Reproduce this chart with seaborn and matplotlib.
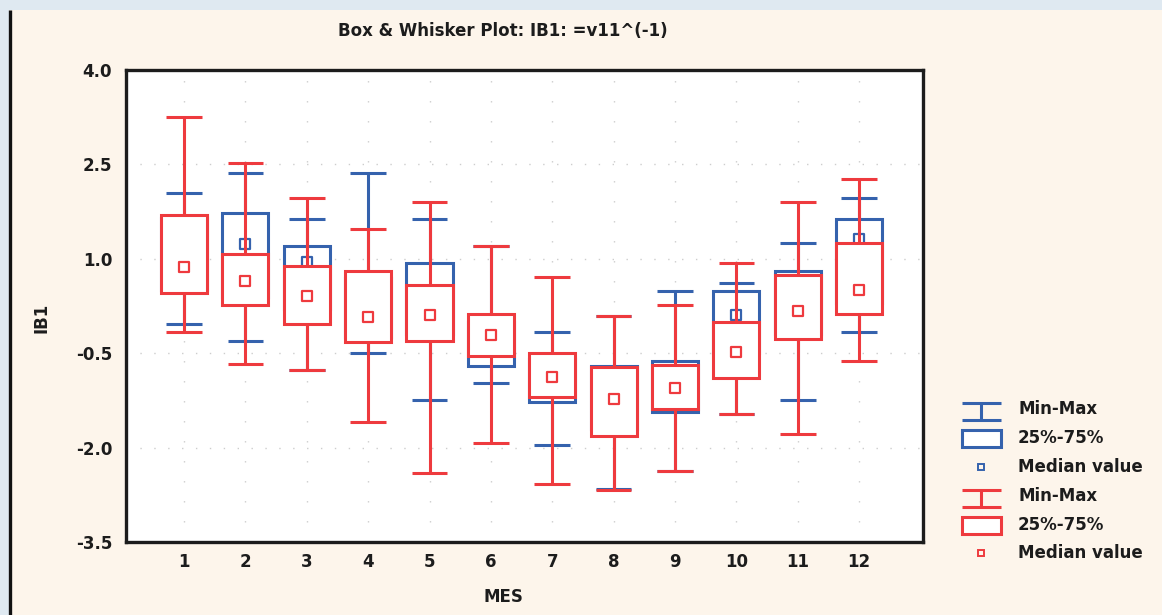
import numpy as np
import pandas as pd
import matplotlib
matplotlib.use("Agg")
import matplotlib.pyplot as plt
from matplotlib.patches import Rectangle
import seaborn as sns

# ---- data: five-number summaries of IB1 per month, two groups ----
MONTHS = [str(m) for m in range(1, 13)]

BLUE_MIN = [-0.04, -0.31, -0.76, -0.49, -1.24, -0.98, -1.96, -2.65, -2.37, -1.47, -1.24, -0.17]
BLUE_Q1 = [0.50, 0.40, 0.20, -0.25, -0.20, -0.71, -1.27, -1.70, -1.43, -0.50, -0.20, 0.30]
BLUE_MED = [0.90, 1.23, 0.95, 0.10, 0.20, -0.25, -0.90, -1.20, -1.06, 0.11, 0.17, 1.31]
BLUE_Q3 = [1.65, 1.72, 1.20, 0.70, 0.94, 0.00, -0.60, -0.71, -0.62, 0.49, 0.80, 1.63]
BLUE_MAX = [2.04, 2.36, 1.64, 2.36, 1.64, 1.20, -0.17, 0.09, 0.49, 0.62, 1.25, 1.96]

RED_MIN = [-0.17, -0.67, -0.76, -1.60, -2.40, -1.92, -2.58, -2.68, -2.37, -1.47, -1.78, -0.62]
RED_Q1 = [0.45, 0.27, -0.04, -0.32, -0.31, -0.54, -1.20, -1.81, -1.38, -0.89, -0.27, 0.13]
RED_MED = [0.87, 0.64, 0.41, 0.07, 0.11, -0.21, -0.88, -1.23, -1.06, -0.48, 0.17, 0.50]
RED_Q3 = [1.70, 1.07, 0.885, 0.81, 0.58, 0.13, -0.49, -0.72, -0.69, -0.01, 0.75, 1.25]
RED_MAX = [3.25, 2.53, 1.96, 1.47, 1.91, 1.20, 0.71, 0.09, 0.27, 0.94, 1.91, 2.27]

Y_TICKS = [-3.5, -2.0, -0.5, 1.0, 2.5, 4.0]
LEGEND_LABELS = ["Min-Max", "25%-75%", "Median value"]

BLUE = "#3562ad"
RED = "#ee3a3e"
PAGE = "#fdf5eb"
STRIP = "#dfe9f1"
INK = "#1c1c1c"
GRID = "#cdcdcd"

W, H = 1162, 615
FS = 12

plt.rcParams["axes.unicode_minus"] = False
plt.rcParams["font.family"] = ["DejaVu Sans"]


def long_form(mins, q1, med, q3, maxs):
    """Five values per month reproduce min/Q1/median/Q3/max exactly."""
    rows = []
    for m, vals in zip(MONTHS, zip(mins, q1, med, q3, maxs)):
        for v in vals:
            rows.append({"MES": m, "IB1": v})
    return pd.DataFrame(rows)


blue_df = long_form(BLUE_MIN, BLUE_Q1, BLUE_MED, BLUE_Q3, BLUE_MAX)
red_df = long_form(RED_MIN, RED_Q1, RED_MED, RED_Q3, RED_MAX)

fig = plt.figure(figsize=(W / 100, H / 100), dpi=100, facecolor=PAGE)
ax = fig.add_axes([126 / W, 73 / H, 797 / W, 472 / H])
ax.set_facecolor("white")

LW = 2.2


def draw_group(df, medians, color, base_z):
    n_lines, n_patches, n_coll = len(ax.lines), len(ax.patches), len(ax.collections)
    sns.boxplot(data=df, x="MES", y="IB1", order=MONTHS, whis=(0, 100),
                width=0.75, color="white", saturation=1, linecolor=color,
                linewidth=LW, fill=True, showfliers=False, capwidths=0.58,
                medianprops={"visible": False}, ax=ax)
    for ln in ax.lines[n_lines:]:
        ln.set_zorder(base_z)
        ln.set_solid_capstyle("butt")
    for p in ax.patches[n_patches:]:
        p.set_zorder(base_z + 0.1)
    sns.stripplot(x=MONTHS, y=medians, order=MONTHS, jitter=False, marker="s",
                  size=6.5, color="white", edgecolor=color, linewidth=1.6, ax=ax)
    for c in ax.collections[n_coll:]:
        c.set_zorder(base_z + 0.2)


draw_group(blue_df, BLUE_MED, BLUE, 3)
draw_group(red_df, RED_MED, RED, 4)

ax.set_xlim(-0.945, 12.04)
ax.set_ylim(-3.5, 4.0)
ax.set_yticks(Y_TICKS)
ax.set_yticklabels([f"{v:.1f}" for v in Y_TICKS])
ax.set_xticks(range(len(MONTHS)))
ax.set_xticklabels(MONTHS)
ax.set_xlabel("")
ax.set_ylabel("")
ax.tick_params(axis="both", length=0, labelsize=FS, labelcolor=INK)
ax.tick_params(axis="y", pad=10)
ax.tick_params(axis="x", pad=8)
for lab in ax.get_xticklabels() + ax.get_yticklabels():
    lab.set_fontweight("bold")

ax.set_axisbelow(True)
ax.xaxis.grid(True, linestyle=(0, (1, 13.4)), color=GRID, linewidth=1.0)
ax.yaxis.grid(True, linestyle=(0, (1, 9)), color=GRID, linewidth=1.0)
for sp in ax.spines.values():
    sp.set_linewidth(2.4)
    sp.set_color(INK)

# titles
fig.text(503 / W, 1 - 31 / H, "Box & Whisker Plot: IB1: =v11^(-1)", ha="center",
         va="center", fontsize=FS, fontweight="bold", color=INK)
fig.text(503 / W, 1 - 597 / H, "MES", ha="center", va="center",
         fontsize=FS, fontweight="bold", color=INK)
fig.text(42 / W, 1 - 318 / H, "IB1", ha="center", va="center", rotation=90,
         fontsize=FS, fontweight="bold", color=INK)

# overlay in pixel units: window strips and the legend
ov = fig.add_axes([0, 0, 1, 1], facecolor="none")
ov.set_xlim(0, W)
ov.set_ylim(H, 0)
ov.axis("off")
ov.add_patch(Rectangle((0, 0), W, 9.5, facecolor=STRIP, edgecolor="none"))
ov.add_patch(Rectangle((0, 0), 8.5, H, facecolor=STRIP, edgecolor="none"))
ov.plot([9.8, 9.8], [9.5, H], color="#111111", linewidth=2.4, solid_capstyle="butt")

ICON_X0, ICON_X1 = 961.5, 1000.5
ICON_XC = (ICON_X0 + ICON_X1) / 2
TEXT_X = 1018
for color, rows in [(BLUE, (409, 438, 467)), (RED, (496, 525, 553))]:
    r_mm, r_box, r_med = rows
    # whisker icon
    yc = r_mm + 2.5
    ov.plot([ICON_X0, ICON_X1], [yc - 8.5, yc - 8.5], color=color, lw=LW, solid_capstyle="butt")
    ov.plot([ICON_X0, ICON_X1], [yc + 8.5, yc + 8.5], color=color, lw=LW, solid_capstyle="butt")
    ov.plot([ICON_XC, ICON_XC], [yc - 8.5, yc + 8.5], color=color, lw=LW, solid_capstyle="butt")
    # box icon
    ov.add_patch(Rectangle((ICON_X0, r_box - 8.5), ICON_X1 - ICON_X0, 17,
                           facecolor="white", edgecolor=color, linewidth=LW))
    # median icon
    ov.plot([ICON_XC], [r_med], marker="s", markersize=4, markerfacecolor="none",
            markeredgecolor=color, markeredgewidth=1.4, linestyle="none")
    for txt, y in zip(LEGEND_LABELS, rows):
        ov.text(TEXT_X, y, txt, ha="left", va="center", fontsize=FS,
                fontweight="bold", color=INK)

fig.savefig("out.png", dpi=100, facecolor=PAGE)
